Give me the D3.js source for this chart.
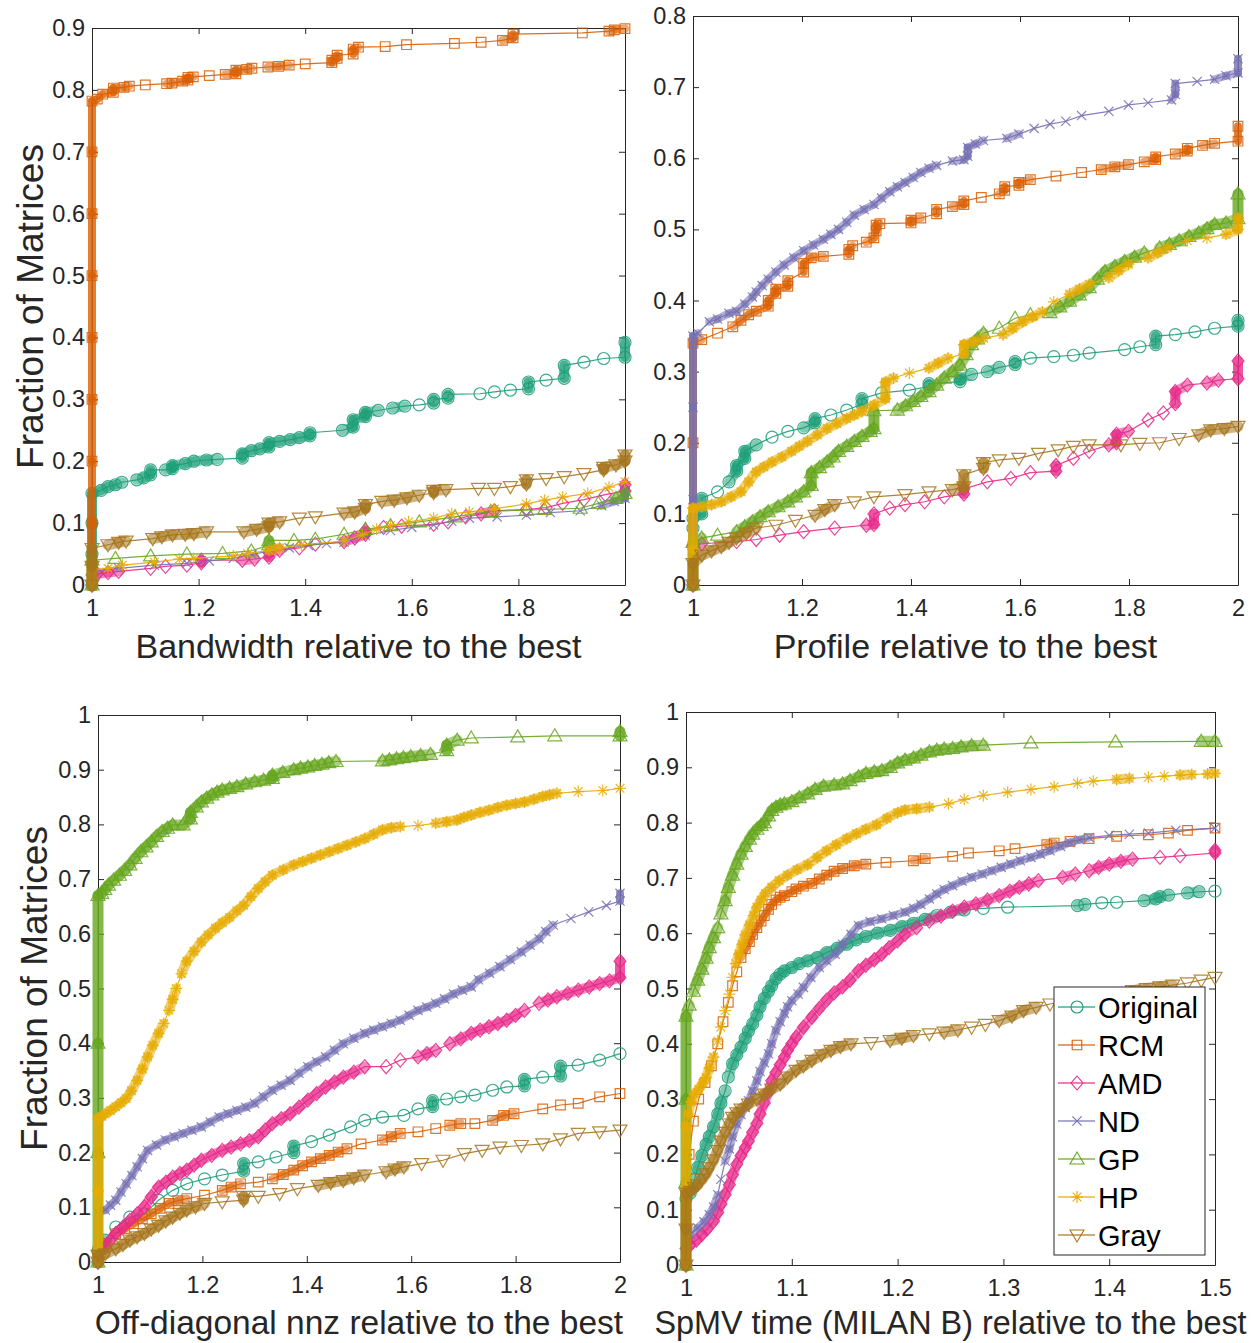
<!DOCTYPE html>
<html><head><meta charset="utf-8">
<script src="https://cdn.jsdelivr.net/npm/d3@7"></script>
<style>body{margin:0;background:#fff}svg{display:block}</style>
</head><body>
<svg id="chart" width="1253" height="1343"></svg>
<script>
// ---------------- DATA ----------------
const methods = ["Original","RCM","AMD","ND","GP","HP","Gray"];
const colors  = ["#1b9e77","#d95f02","#e7298a","#7570b3","#66a61e","#e6ab02","#a6761d"];
const markerTypes = ["circle","square","diamond","x","triangle","asterisk","triangleDown"];

const xTicks12 = [1,1.2,1.4,1.6,1.8,2];
const xTicks15 = [1,1.1,1.2,1.3,1.4,1.5];
const yTicks09 = [0,0.1,0.2,0.3,0.4,0.5,0.6,0.7,0.8,0.9];
const yTicks08 = [0,0.1,0.2,0.3,0.4,0.5,0.6,0.7,0.8];
const yTicks10 = [0,0.1,0.2,0.3,0.4,0.5,0.6,0.7,0.8,0.9,1];

const titles = ["Bandwidth relative to the best","Profile relative to the best",
  "Off-diagonal nnz relative to the best","SpMV time (MILAN B) relative to the best"];
const yTitle = "Fraction of Matrices";

// Panel 1: Bandwidth
const bwOriginal = [[1,0],[1,0.05],[1,0.1],[1,0.148],[1.017,0.153],[1.03,0.159],[1.044,0.162],[1.056,0.166],[1.084,0.17],[1.097,0.173],[1.11,0.178],[1.11,0.186],[1.138,0.186],[1.151,0.188],[1.151,0.193],[1.175,0.196],[1.191,0.2],[1.215,0.202],[1.235,0.203],[1.282,0.205],[1.282,0.212],[1.299,0.217],[1.315,0.22],[1.332,0.223],[1.332,0.23],[1.352,0.232],[1.372,0.235],[1.389,0.238],[1.409,0.241],[1.409,0.246],[1.47,0.25],[1.49,0.255],[1.49,0.267],[1.513,0.272],[1.513,0.279],[1.537,0.282],[1.564,0.286],[1.587,0.289],[1.614,0.291],[1.641,0.294],[1.641,0.3],[1.668,0.302],[1.668,0.308],[1.728,0.309],[1.755,0.312],[1.785,0.315],[1.819,0.317],[1.819,0.328],[1.852,0.331],[1.886,0.334],[1.886,0.355],[1.923,0.36],[1.96,0.366],[2,0.368],[2,0.392]];
const bwRcm = [[1,0],[1,0.1],[1,0.2],[1,0.3],[1,0.4],[1,0.5],[1,0.6],[1,0.7],[1,0.782],[1.01,0.785],[1.02,0.793],[1.04,0.796],[1.04,0.803],[1.06,0.804],[1.07,0.806],[1.1,0.808],[1.14,0.81],[1.15,0.811],[1.17,0.814],[1.18,0.816],[1.18,0.82],[1.19,0.821],[1.22,0.823],[1.25,0.825],[1.27,0.826],[1.27,0.832],[1.29,0.833],[1.3,0.835],[1.33,0.837],[1.35,0.838],[1.37,0.84],[1.4,0.842],[1.45,0.844],[1.45,0.848],[1.46,0.851],[1.46,0.856],[1.49,0.858],[1.49,0.866],[1.5,0.869],[1.55,0.87],[1.59,0.873],[1.68,0.875],[1.73,0.877],[1.77,0.88],[1.79,0.884],[1.79,0.89],[1.92,0.892],[1.97,0.895],[1.98,0.897],[2,0.899]];
const bwAmd = [[1,0],[1,0.016],[1.01,0.018],[1.03,0.02],[1.05,0.022],[1.11,0.027],[1.138,0.03],[1.178,0.032],[1.205,0.036],[1.205,0.04],[1.282,0.04],[1.305,0.042],[1.332,0.045],[1.332,0.052],[1.352,0.056],[1.389,0.06],[1.419,0.066],[1.473,0.07],[1.493,0.076],[1.513,0.082],[1.513,0.088],[1.547,0.093],[1.581,0.095],[1.641,0.098],[1.668,0.102],[1.701,0.11],[1.73,0.115],[1.755,0.12],[1.815,0.122],[1.852,0.125],[1.883,0.132],[1.923,0.138],[1.963,0.146],[2,0.152],[2,0.162]];
const bwNd = [[1,0],[1,0.022],[1.05,0.027],[1.117,0.032],[1.178,0.035],[1.22,0.039],[1.265,0.043],[1.3,0.049],[1.332,0.055],[1.37,0.06],[1.406,0.064],[1.44,0.067],[1.473,0.069],[1.513,0.08],[1.56,0.088],[1.6,0.093],[1.641,0.097],[1.675,0.103],[1.708,0.108],[1.76,0.11],[1.815,0.113],[1.86,0.117],[1.916,0.12],[1.956,0.128],[1.98,0.135],[2,0.14],[2,0.152]];
const bwGp = [[1,0],[1,0.04],[1.044,0.043],[1.11,0.047],[1.178,0.05],[1.245,0.051],[1.299,0.055],[1.332,0.065],[1.332,0.072],[1.379,0.072],[1.419,0.074],[1.473,0.082],[1.513,0.09],[1.56,0.096],[1.614,0.102],[1.681,0.11],[1.748,0.119],[1.815,0.121],[1.849,0.122],[1.916,0.124],[1.95,0.132],[1.983,0.14],[2,0.148]];
const bwHp = [[1,0],[1,0.024],[1.03,0.027],[1.057,0.032],[1.117,0.037],[1.164,0.042],[1.191,0.043],[1.265,0.047],[1.292,0.051],[1.332,0.056],[1.352,0.06],[1.393,0.065],[1.473,0.071],[1.507,0.081],[1.534,0.09],[1.56,0.096],[1.594,0.102],[1.641,0.108],[1.675,0.115],[1.708,0.118],[1.755,0.123],[1.815,0.131],[1.849,0.137],[1.883,0.142],[1.93,0.148],[1.97,0.158],[2,0.167]];
const bwGray = [[1,0],[1,0.03],[1,0.059],[1.03,0.065],[1.05,0.069],[1.064,0.071],[1.114,0.075],[1.131,0.078],[1.151,0.081],[1.175,0.082],[1.191,0.083],[1.215,0.086],[1.285,0.086],[1.309,0.09],[1.332,0.094],[1.332,0.1],[1.352,0.102],[1.389,0.108],[1.419,0.11],[1.473,0.116],[1.493,0.118],[1.513,0.124],[1.513,0.13],[1.544,0.135],[1.567,0.137],[1.591,0.141],[1.614,0.145],[1.641,0.149],[1.641,0.153],[1.664,0.154],[1.725,0.156],[1.755,0.156],[1.785,0.159],[1.815,0.163],[1.815,0.17],[1.852,0.172],[1.886,0.175],[1.923,0.18],[1.96,0.186],[1.96,0.19],[1.983,0.194],[2,0.2],[2,0.21]];

// Panel 2: Profile
const prOriginal = [[1,0],[1,0.08],[1,0.094],[1.016,0.1],[1.016,0.122],[1.045,0.131],[1.066,0.145],[1.08,0.16],[1.08,0.168],[1.095,0.178],[1.095,0.188],[1.116,0.197],[1.145,0.208],[1.174,0.216],[1.203,0.221],[1.224,0.228],[1.224,0.234],[1.253,0.239],[1.282,0.246],[1.31,0.254],[1.31,0.262],[1.346,0.27],[1.397,0.274],[1.433,0.279],[1.433,0.283],[1.49,0.286],[1.49,0.29],[1.511,0.296],[1.54,0.3],[1.562,0.306],[1.591,0.31],[1.591,0.314],[1.619,0.319],[1.662,0.321],[1.698,0.323],[1.727,0.326],[1.792,0.331],[1.82,0.335],[1.849,0.338],[1.849,0.35],[1.885,0.352],[1.921,0.356],[1.957,0.361],[2,0.364],[2,0.372]];
const prRcm = [[1,0],[1,0.2],[1,0.34],[1.016,0.345],[1.045,0.354],[1.073,0.363],[1.088,0.372],[1.102,0.38],[1.116,0.385],[1.138,0.392],[1.138,0.4],[1.152,0.41],[1.152,0.416],[1.174,0.42],[1.174,0.428],[1.203,0.44],[1.203,0.452],[1.217,0.46],[1.239,0.462],[1.286,0.465],[1.286,0.472],[1.293,0.477],[1.318,0.482],[1.332,0.488],[1.336,0.498],[1.336,0.506],[1.343,0.508],[1.4,0.509],[1.4,0.513],[1.418,0.516],[1.447,0.522],[1.447,0.528],[1.476,0.532],[1.497,0.535],[1.497,0.54],[1.529,0.545],[1.562,0.55],[1.572,0.555],[1.572,0.56],[1.598,0.562],[1.598,0.566],[1.619,0.57],[1.666,0.575],[1.713,0.58],[1.749,0.584],[1.774,0.588],[1.799,0.591],[1.828,0.595],[1.849,0.598],[1.849,0.602],[1.885,0.606],[1.907,0.61],[1.907,0.614],[1.935,0.618],[1.957,0.621],[2,0.624],[2,0.645]];
const prAmd = [[1,0],[1,0.056],[1.016,0.058],[1.08,0.061],[1.116,0.064],[1.159,0.07],[1.203,0.075],[1.26,0.08],[1.318,0.084],[1.332,0.085],[1.332,0.1],[1.361,0.108],[1.389,0.113],[1.425,0.117],[1.461,0.124],[1.497,0.128],[1.497,0.135],[1.54,0.145],[1.583,0.15],[1.619,0.158],[1.666,0.16],[1.666,0.168],[1.698,0.178],[1.727,0.188],[1.763,0.197],[1.777,0.2],[1.777,0.212],[1.799,0.216],[1.835,0.232],[1.863,0.242],[1.885,0.255],[1.885,0.272],[1.907,0.281],[1.943,0.284],[1.964,0.288],[2,0.29],[2,0.315]];
const prNd = [[1,0],[1,0.12],[1,0.25],[1,0.35],[1.009,0.354],[1.03,0.37],[1.045,0.374],[1.066,0.382],[1.08,0.385],[1.095,0.395],[1.109,0.405],[1.116,0.412],[1.127,0.421],[1.138,0.43],[1.152,0.44],[1.167,0.45],[1.185,0.46],[1.203,0.47],[1.221,0.478],[1.239,0.486],[1.253,0.493],[1.267,0.5],[1.282,0.51],[1.296,0.52],[1.314,0.528],[1.332,0.535],[1.346,0.544],[1.361,0.553],[1.375,0.56],[1.389,0.566],[1.404,0.573],[1.418,0.58],[1.433,0.586],[1.447,0.59],[1.476,0.596],[1.497,0.598],[1.504,0.603],[1.504,0.615],[1.518,0.62],[1.533,0.625],[1.576,0.628],[1.598,0.634],[1.626,0.642],[1.655,0.648],[1.684,0.652],[1.713,0.66],[1.763,0.666],[1.799,0.675],[1.835,0.678],[1.878,0.682],[1.885,0.69],[1.885,0.705],[1.925,0.708],[1.957,0.711],[1.978,0.716],[2,0.72],[2,0.74]];
const prGp = [[1,0],[1,0.06],[1.016,0.066],[1.045,0.07],[1.08,0.075],[1.095,0.082],[1.109,0.089],[1.123,0.096],[1.138,0.103],[1.156,0.11],[1.174,0.117],[1.188,0.124],[1.203,0.131],[1.217,0.14],[1.217,0.158],[1.232,0.165],[1.246,0.173],[1.257,0.18],[1.267,0.188],[1.282,0.195],[1.296,0.202],[1.31,0.209],[1.325,0.216],[1.332,0.22],[1.332,0.245],[1.375,0.246],[1.39,0.252],[1.404,0.258],[1.418,0.265],[1.433,0.272],[1.447,0.281],[1.461,0.291],[1.476,0.3],[1.49,0.309],[1.501,0.324],[1.511,0.338],[1.522,0.346],[1.533,0.354],[1.562,0.361],[1.591,0.375],[1.619,0.38],[1.655,0.383],[1.673,0.391],[1.691,0.399],[1.709,0.408],[1.727,0.418],[1.742,0.43],[1.756,0.441],[1.774,0.448],[1.792,0.455],[1.81,0.461],[1.828,0.467],[1.856,0.474],[1.874,0.479],[1.892,0.484],[1.91,0.49],[1.928,0.495],[1.943,0.501],[1.957,0.507],[1.978,0.509],[2,0.515],[2,0.55]];
const prHp = [[1,0],[1,0.05],[1,0.108],[1.016,0.11],[1.034,0.113],[1.052,0.117],[1.07,0.124],[1.088,0.131],[1.102,0.145],[1.116,0.159],[1.13,0.166],[1.145,0.173],[1.163,0.18],[1.181,0.188],[1.195,0.195],[1.21,0.202],[1.228,0.211],[1.246,0.22],[1.264,0.227],[1.282,0.234],[1.296,0.239],[1.31,0.244],[1.332,0.253],[1.353,0.262],[1.353,0.285],[1.368,0.291],[1.397,0.298],[1.433,0.305],[1.45,0.312],[1.468,0.319],[1.497,0.325],[1.497,0.338],[1.515,0.342],[1.533,0.347],[1.569,0.352],[1.587,0.361],[1.605,0.37],[1.623,0.377],[1.641,0.384],[1.662,0.398],[1.691,0.409],[1.709,0.416],[1.727,0.423],[1.763,0.432],[1.781,0.442],[1.799,0.451],[1.835,0.46],[1.853,0.467],[1.871,0.474],[1.907,0.484],[1.943,0.488],[1.978,0.493],[2,0.5],[2,0.516]];
const prGray = [[1,0],[1,0.03],[1.016,0.042],[1.034,0.048],[1.052,0.054],[1.066,0.06],[1.08,0.066],[1.098,0.073],[1.116,0.08],[1.152,0.084],[1.188,0.091],[1.224,0.098],[1.242,0.106],[1.26,0.113],[1.296,0.117],[1.332,0.124],[1.389,0.127],[1.433,0.131],[1.476,0.134],[1.497,0.138],[1.497,0.155],[1.533,0.164],[1.533,0.172],[1.562,0.176],[1.598,0.178],[1.634,0.185],[1.67,0.19],[1.698,0.195],[1.727,0.197],[1.785,0.197],[1.82,0.199],[1.856,0.2],[1.892,0.206],[1.928,0.211],[1.95,0.218],[1.975,0.22],[2,0.223]];

// Panel 3: Off-diagonal nnz
const nzOriginal = [[1,0],[1,0.02],[1.014,0.04],[1.034,0.064],[1.061,0.082],[1.089,0.088],[1.116,0.113],[1.143,0.131],[1.17,0.143],[1.204,0.152],[1.238,0.159],[1.279,0.166],[1.279,0.18],[1.307,0.183],[1.341,0.192],[1.375,0.2],[1.375,0.212],[1.409,0.22],[1.443,0.232],[1.484,0.247],[1.511,0.259],[1.545,0.265],[1.586,0.268],[1.613,0.28],[1.641,0.284],[1.641,0.295],[1.668,0.298],[1.695,0.302],[1.722,0.305],[1.756,0.314],[1.783,0.32],[1.817,0.322],[1.817,0.334],[1.852,0.338],[1.886,0.34],[1.886,0.358],[1.92,0.36],[1.961,0.369],[2,0.381]];
const nzRcm = [[1,0],[1,0.02],[1.014,0.034],[1.034,0.052],[1.051,0.061],[1.068,0.07],[1.085,0.079],[1.102,0.088],[1.119,0.098],[1.136,0.107],[1.153,0.112],[1.17,0.116],[1.204,0.122],[1.238,0.131],[1.255,0.137],[1.273,0.143],[1.307,0.146],[1.334,0.152],[1.355,0.16],[1.375,0.168],[1.392,0.176],[1.409,0.183],[1.426,0.189],[1.443,0.195],[1.46,0.201],[1.477,0.207],[1.504,0.216],[1.545,0.223],[1.562,0.229],[1.579,0.235],[1.613,0.238],[1.647,0.244],[1.674,0.25],[1.695,0.253],[1.722,0.253],[1.756,0.259],[1.777,0.268],[1.797,0.271],[1.852,0.28],[1.886,0.287],[1.92,0.29],[1.961,0.302],[2,0.308]];
const nzAmd = [[1,0],[1,0.02],[1.014,0.027],[1.024,0.04],[1.034,0.052],[1.048,0.064],[1.061,0.076],[1.075,0.088],[1.089,0.101],[1.102,0.119],[1.116,0.137],[1.13,0.146],[1.143,0.155],[1.157,0.162],[1.17,0.168],[1.184,0.177],[1.198,0.186],[1.218,0.195],[1.238,0.204],[1.255,0.21],[1.273,0.216],[1.29,0.222],[1.307,0.229],[1.32,0.241],[1.334,0.253],[1.351,0.262],[1.368,0.271],[1.385,0.283],[1.402,0.296],[1.419,0.308],[1.436,0.32],[1.453,0.329],[1.47,0.338],[1.49,0.347],[1.511,0.357],[1.552,0.357],[1.579,0.369],[1.613,0.375],[1.63,0.381],[1.647,0.387],[1.674,0.399],[1.695,0.408],[1.715,0.418],[1.732,0.424],[1.749,0.43],[1.766,0.436],[1.783,0.442],[1.8,0.451],[1.817,0.46],[1.845,0.473],[1.862,0.479],[1.879,0.485],[1.9,0.491],[1.92,0.497],[1.941,0.503],[1.961,0.509],[1.98,0.514],[2,0.52],[2,0.55]];
const nzNd = [[1,0],[1,0.09],[1.014,0.095],[1.024,0.104],[1.034,0.113],[1.044,0.128],[1.054,0.143],[1.065,0.158],[1.075,0.174],[1.085,0.189],[1.095,0.204],[1.112,0.214],[1.129,0.223],[1.146,0.229],[1.163,0.235],[1.18,0.241],[1.198,0.247],[1.215,0.256],[1.232,0.265],[1.249,0.271],[1.266,0.277],[1.283,0.283],[1.3,0.29],[1.317,0.302],[1.334,0.314],[1.351,0.323],[1.368,0.332],[1.385,0.345],[1.402,0.357],[1.419,0.366],[1.436,0.375],[1.453,0.387],[1.47,0.399],[1.49,0.409],[1.511,0.418],[1.528,0.424],[1.545,0.43],[1.562,0.436],[1.579,0.442],[1.596,0.451],[1.613,0.46],[1.63,0.466],[1.647,0.473],[1.664,0.481],[1.681,0.49],[1.698,0.497],[1.715,0.503],[1.729,0.516],[1.75,0.528],[1.77,0.54],[1.79,0.553],[1.811,0.567],[1.828,0.579],[1.845,0.591],[1.858,0.604],[1.872,0.616],[1.906,0.628],[1.94,0.64],[1.974,0.652],[2,0.66],[2,0.674]];
const nzGp = [[1,0],[1,0.2],[1,0.4],[1,0.67],[1.007,0.674],[1.013,0.681],[1.02,0.689],[1.03,0.698],[1.041,0.707],[1.051,0.716],[1.061,0.726],[1.071,0.738],[1.082,0.75],[1.092,0.759],[1.102,0.768],[1.112,0.778],[1.123,0.787],[1.133,0.793],[1.143,0.799],[1.163,0.799],[1.177,0.81],[1.177,0.822],[1.188,0.832],[1.198,0.841],[1.208,0.848],[1.218,0.854],[1.228,0.859],[1.238,0.863],[1.252,0.866],[1.266,0.869],[1.283,0.874],[1.3,0.878],[1.317,0.881],[1.334,0.884],[1.334,0.89],[1.354,0.895],[1.375,0.9],[1.388,0.903],[1.402,0.905],[1.415,0.908],[1.429,0.91],[1.442,0.913],[1.456,0.915],[1.545,0.916],[1.558,0.918],[1.572,0.92],[1.585,0.922],[1.599,0.924],[1.618,0.926],[1.637,0.928],[1.668,0.935],[1.668,0.945],[1.688,0.954],[1.715,0.958],[1.804,0.96],[1.875,0.962],[2,0.962],[2,0.97]];
const nzHp = [[1,0],[1,0.13],[1,0.262],[1.007,0.266],[1.014,0.271],[1.024,0.277],[1.034,0.284],[1.044,0.291],[1.054,0.299],[1.064,0.313],[1.075,0.332],[1.085,0.353],[1.095,0.375],[1.105,0.396],[1.116,0.418],[1.126,0.436],[1.136,0.46],[1.143,0.48],[1.15,0.5],[1.16,0.527],[1.17,0.55],[1.184,0.568],[1.198,0.585],[1.211,0.598],[1.225,0.61],[1.238,0.62],[1.252,0.63],[1.266,0.642],[1.279,0.652],[1.293,0.668],[1.307,0.683],[1.32,0.695],[1.334,0.707],[1.355,0.717],[1.375,0.726],[1.392,0.732],[1.409,0.738],[1.426,0.744],[1.443,0.75],[1.46,0.756],[1.477,0.762],[1.494,0.768],[1.511,0.774],[1.528,0.782],[1.545,0.79],[1.562,0.794],[1.579,0.796],[1.613,0.798],[1.647,0.802],[1.668,0.805],[1.688,0.808],[1.701,0.813],[1.715,0.817],[1.732,0.822],[1.749,0.826],[1.766,0.831],[1.783,0.835],[1.8,0.838],[1.817,0.841],[1.835,0.846],[1.852,0.851],[1.865,0.854],[1.879,0.857],[1.92,0.86],[1.967,0.862],[2,0.866]];
const nzGray = [[1,0],[1,0.012],[1.014,0.015],[1.034,0.024],[1.048,0.032],[1.061,0.04],[1.075,0.046],[1.089,0.052],[1.102,0.06],[1.116,0.067],[1.13,0.075],[1.143,0.082],[1.157,0.089],[1.17,0.095],[1.187,0.101],[1.204,0.107],[1.238,0.11],[1.279,0.113],[1.279,0.12],[1.307,0.12],[1.348,0.125],[1.382,0.134],[1.422,0.14],[1.446,0.145],[1.47,0.149],[1.49,0.154],[1.511,0.159],[1.552,0.165],[1.569,0.17],[1.586,0.174],[1.62,0.18],[1.661,0.186],[1.702,0.198],[1.736,0.204],[1.77,0.21],[1.811,0.213],[1.852,0.216],[1.886,0.225],[1.92,0.235],[1.961,0.238],[2,0.241]];

// Panel 4: SpMV time
const spOriginal = [[1,0],[1,0.12],[1.004,0.13],[1.008,0.155],[1.011,0.176],[1.015,0.198],[1.019,0.218],[1.022,0.232],[1.026,0.25],[1.03,0.273],[1.033,0.293],[1.037,0.315],[1.04,0.34],[1.044,0.364],[1.048,0.38],[1.052,0.394],[1.056,0.41],[1.059,0.423],[1.063,0.436],[1.067,0.452],[1.07,0.467],[1.074,0.482],[1.078,0.495],[1.081,0.505],[1.085,0.518],[1.089,0.526],[1.093,0.532],[1.1,0.538],[1.107,0.545],[1.115,0.55],[1.124,0.556],[1.133,0.565],[1.143,0.573],[1.152,0.58],[1.161,0.588],[1.17,0.594],[1.181,0.6],[1.193,0.605],[1.204,0.612],[1.215,0.618],[1.226,0.625],[1.237,0.632],[1.25,0.638],[1.263,0.642],[1.281,0.645],[1.304,0.647],[1.37,0.65],[1.377,0.652],[1.393,0.655],[1.407,0.656],[1.433,0.659],[1.444,0.662],[1.448,0.666],[1.456,0.669],[1.474,0.673],[1.485,0.675],[1.5,0.676]];
const spRcm = [[1,0],[1,0.13],[1.003,0.2],[1.007,0.26],[1.012,0.3],[1.018,0.33],[1.024,0.36],[1.03,0.4],[1.035,0.44],[1.04,0.475],[1.044,0.505],[1.048,0.53],[1.052,0.556],[1.056,0.572],[1.06,0.585],[1.063,0.598],[1.067,0.61],[1.071,0.622],[1.074,0.632],[1.078,0.643],[1.081,0.652],[1.085,0.66],[1.089,0.665],[1.093,0.668],[1.1,0.675],[1.104,0.68],[1.111,0.685],[1.119,0.69],[1.126,0.698],[1.133,0.705],[1.14,0.712],[1.148,0.717],[1.159,0.722],[1.17,0.725],[1.189,0.728],[1.215,0.731],[1.226,0.735],[1.252,0.739],[1.267,0.745],[1.296,0.749],[1.311,0.753],[1.341,0.76],[1.348,0.763],[1.363,0.766],[1.381,0.771],[1.407,0.775],[1.437,0.778],[1.456,0.781],[1.474,0.786],[1.5,0.79]];
const spAmd = [[1,0],[1,0.03],[1.004,0.036],[1.01,0.045],[1.015,0.055],[1.02,0.065],[1.026,0.079],[1.03,0.095],[1.033,0.11],[1.037,0.127],[1.041,0.145],[1.044,0.163],[1.048,0.182],[1.052,0.198],[1.056,0.212],[1.059,0.224],[1.063,0.24],[1.067,0.256],[1.07,0.273],[1.074,0.293],[1.078,0.313],[1.081,0.333],[1.085,0.348],[1.089,0.362],[1.093,0.376],[1.096,0.388],[1.1,0.4],[1.104,0.412],[1.111,0.43],[1.119,0.448],[1.126,0.464],[1.133,0.479],[1.14,0.492],[1.148,0.503],[1.155,0.515],[1.163,0.532],[1.17,0.542],[1.178,0.552],[1.185,0.562],[1.192,0.574],[1.2,0.586],[1.207,0.598],[1.218,0.61],[1.23,0.622],[1.241,0.631],[1.252,0.64],[1.263,0.647],[1.274,0.653],[1.285,0.66],[1.296,0.668],[1.306,0.676],[1.315,0.683],[1.324,0.689],[1.333,0.695],[1.356,0.701],[1.368,0.707],[1.381,0.713],[1.39,0.719],[1.4,0.725],[1.411,0.73],[1.422,0.734],[1.448,0.737],[1.467,0.74],[1.5,0.745],[1.5,0.75]];
const spNd = [[1,0],[1,0.05],[1.004,0.055],[1.011,0.067],[1.017,0.078],[1.022,0.091],[1.026,0.105],[1.03,0.127],[1.033,0.155],[1.037,0.188],[1.041,0.21],[1.044,0.232],[1.048,0.255],[1.052,0.272],[1.056,0.285],[1.059,0.297],[1.063,0.315],[1.067,0.333],[1.07,0.35],[1.074,0.366],[1.078,0.382],[1.081,0.4],[1.085,0.424],[1.089,0.44],[1.093,0.455],[1.096,0.467],[1.1,0.478],[1.106,0.49],[1.111,0.502],[1.118,0.52],[1.126,0.538],[1.133,0.55],[1.141,0.562],[1.148,0.58],[1.156,0.598],[1.163,0.614],[1.174,0.621],[1.185,0.626],[1.196,0.632],[1.207,0.638],[1.215,0.645],[1.222,0.652],[1.23,0.662],[1.237,0.671],[1.244,0.679],[1.252,0.686],[1.261,0.694],[1.27,0.701],[1.28,0.707],[1.289,0.713],[1.298,0.719],[1.307,0.725],[1.316,0.731],[1.326,0.737],[1.335,0.743],[1.344,0.749],[1.354,0.757],[1.363,0.764],[1.372,0.769],[1.381,0.773],[1.4,0.777],[1.419,0.779],[1.437,0.781],[1.463,0.786],[1.5,0.79]];
const spGp = [[1,0],[1,0.15],[1,0.3],[1,0.45],[1.003,0.47],[1.007,0.495],[1.011,0.515],[1.015,0.535],[1.019,0.555],[1.022,0.574],[1.026,0.592],[1.03,0.61],[1.033,0.635],[1.037,0.659],[1.04,0.683],[1.044,0.705],[1.048,0.725],[1.052,0.743],[1.056,0.757],[1.06,0.77],[1.063,0.779],[1.067,0.788],[1.071,0.795],[1.074,0.8],[1.078,0.812],[1.081,0.822],[1.085,0.828],[1.089,0.832],[1.093,0.834],[1.1,0.838],[1.107,0.845],[1.115,0.852],[1.122,0.86],[1.13,0.866],[1.14,0.868],[1.148,0.87],[1.155,0.876],[1.163,0.883],[1.17,0.889],[1.178,0.892],[1.185,0.894],[1.193,0.9],[1.2,0.908],[1.207,0.913],[1.215,0.917],[1.222,0.922],[1.23,0.928],[1.237,0.931],[1.244,0.933],[1.252,0.934],[1.26,0.937],[1.27,0.939],[1.281,0.94],[1.326,0.944],[1.406,0.946],[1.487,0.947],[1.5,0.947]];
const spHp = [[1,0],[1,0.14],[1,0.25],[1.002,0.273],[1.005,0.295],[1.008,0.309],[1.012,0.318],[1.016,0.329],[1.019,0.339],[1.022,0.356],[1.026,0.376],[1.03,0.405],[1.033,0.43],[1.037,0.46],[1.041,0.49],[1.044,0.52],[1.047,0.545],[1.05,0.562],[1.053,0.58],[1.056,0.597],[1.06,0.615],[1.064,0.632],[1.067,0.647],[1.071,0.66],[1.075,0.672],[1.081,0.683],[1.088,0.695],[1.096,0.705],[1.105,0.715],[1.115,0.724],[1.124,0.737],[1.133,0.749],[1.142,0.76],[1.152,0.771],[1.161,0.78],[1.17,0.788],[1.18,0.796],[1.19,0.808],[1.2,0.818],[1.207,0.823],[1.218,0.825],[1.23,0.828],[1.248,0.834],[1.263,0.842],[1.281,0.849],[1.304,0.855],[1.326,0.86],[1.348,0.865],[1.37,0.871],[1.385,0.875],[1.407,0.878],[1.419,0.88],[1.437,0.882],[1.452,0.884],[1.467,0.886],[1.478,0.887],[1.493,0.888],[1.5,0.889]];
const spGray = [[1,0],[1,0.065],[1,0.13],[1.004,0.133],[1.008,0.14],[1.011,0.145],[1.015,0.155],[1.019,0.165],[1.022,0.176],[1.026,0.19],[1.03,0.207],[1.033,0.224],[1.037,0.24],[1.041,0.255],[1.044,0.267],[1.048,0.275],[1.052,0.282],[1.059,0.291],[1.067,0.3],[1.074,0.309],[1.081,0.318],[1.089,0.327],[1.096,0.34],[1.104,0.352],[1.111,0.36],[1.119,0.37],[1.128,0.38],[1.137,0.388],[1.146,0.395],[1.156,0.4],[1.175,0.402],[1.193,0.406],[1.204,0.41],[1.215,0.415],[1.23,0.418],[1.244,0.421],[1.257,0.425],[1.27,0.43],[1.283,0.435],[1.296,0.442],[1.308,0.45],[1.319,0.46],[1.331,0.466],[1.344,0.472],[1.359,0.477],[1.374,0.481],[1.4,0.485],[1.411,0.49],[1.422,0.496],[1.435,0.5],[1.448,0.503],[1.46,0.506],[1.474,0.51],[1.487,0.515],[1.5,0.52]];

// ---------------- LAYOUT ----------------
const FONT = "'Liberation Sans', Arial, Helvetica, sans-serif";
const INK = "#262626";
const panels = [
  {left:92, right:625, top:28, bottom:585, xDom:[1,2], yDom:[0,0.9], xTicks:xTicks12, yTicks:yTicks09, title:titles[0], titleY:658, titleSize:34, yTitleX:43, hasYTitle:true,
   series:[bwOriginal,bwRcm,bwAmd,bwNd,bwGp,bwHp,bwGray]},
  {left:693, right:1238, top:16, bottom:585, xDom:[1,2], yDom:[0,0.8], xTicks:xTicks12, yTicks:yTicks08, title:titles[1], titleY:658, titleSize:34, hasYTitle:false,
   series:[prOriginal,prRcm,prAmd,prNd,prGp,prHp,prGray]},
  {left:98, right:620, top:715, bottom:1262, xDom:[1,2], yDom:[0,1], xTicks:xTicks12, yTicks:yTicks10, title:titles[2], titleY:1334, titleSize:33.5, yTitleX:47, hasYTitle:true,
   series:[nzOriginal,nzRcm,nzAmd,nzNd,nzGp,nzHp,nzGray]},
  {left:686, right:1215, top:712, bottom:1265, xDom:[1,1.5], yDom:[0,1], xTicks:xTicks15, yTicks:yTicks10, title:titles[3], titleY:1334, titleSize:32.4, hasYTitle:false,
   series:[spOriginal,spRcm,spAmd,spNd,spGp,spHp,spGray]}
];

const markerSize = {circle:12, square:10, diamond:12, x:10, triangle:13, asterisk:12, triangleDown:13};
function markerPath(t){
  switch(t){
    case "circle": { const r=6; return `M${r},0A${r},${r} 0 1,1 ${-r},0A${r},${r} 0 1,1 ${r},0Z`; }
    case "square": { const h=4.8; return `M${-h},${-h}H${h}V${h}H${-h}Z`; }
    case "diamond": { const w=6, h=7; return `M0,${-h}L${w},0L0,${h}L${-w},0Z`; }
    case "x": { const a=4.6; return `M${-a},${-a}L${a},${a}M${-a},${a}L${a},${-a}`; }
    case "triangle": return "M0,-7L7,5L-7,5Z";
    case "triangleDown": return "M0,7L7,-5L-7,-5Z";
    case "asterisk": { const a=6, b=4.3; return `M0,${-a}V${a}M${-a},0H${a}M${-b},${-b}L${b},${b}M${-b},${b}L${b},${-b}`; }
  }
}
const fmt = d3.format("~g");

const svg = d3.select("#chart");

panels.forEach(p => {
  const x = d3.scaleLinear().domain(p.xDom).range([p.left, p.right]);
  const y = d3.scaleLinear().domain(p.yDom).range([p.bottom, p.top]);
  const g = svg.append("g");

  const styleAxis = sel => {
    sel.attr("font-family", FONT).attr("font-size", 23.5);
    sel.selectAll("path.domain").attr("stroke", INK).attr("stroke-width", 1);
    sel.selectAll(".tick line").attr("stroke", INK).attr("stroke-width", 1);
    sel.selectAll(".tick text").attr("fill", INK);
  };
  g.append("g").attr("transform", `translate(0,${p.bottom})`)
    .call(d3.axisBottom(x).tickValues(p.xTicks).tickFormat(fmt).tickSizeInner(-6).tickSizeOuter(0).tickPadding(14)).call(styleAxis);
  g.append("g").attr("transform", `translate(0,${p.top})`)
    .call(d3.axisTop(x).tickValues(p.xTicks).tickFormat("").tickSizeInner(-6).tickSizeOuter(0)).call(styleAxis);
  g.append("g").attr("transform", `translate(${p.left},0)`)
    .call(d3.axisLeft(y).tickValues(p.yTicks).tickFormat(fmt).tickSizeInner(-6).tickSizeOuter(0).tickPadding(7)).call(styleAxis);
  g.append("g").attr("transform", `translate(${p.right},0)`)
    .call(d3.axisRight(y).tickValues(p.yTicks).tickFormat("").tickSizeInner(-6).tickSizeOuter(0)).call(styleAxis);

  const line = d3.line().x(d => x(d[0])).y(d => y(d[1]));
  p.series.forEach((data, i) => {
    const col = colors[i];
    const ms = markerSize[markerTypes[i]];
    const sg = g.append("g");
    // overlapping markers merge into bands: ties (same x) and closely spaced points
    const segs = [];
    for (let k = 1; k < data.length; k++) {
      const a = data[k-1], b = data[k];
      const dist = Math.hypot(x(b[0]) - x(a[0]), y(b[1]) - y(a[1]));
      if (a[0] === b[0] && a[1] !== b[1]) segs.push({a, b, tie:true});
      else if (dist < 14) segs.push({a, b, tie:false});
    }
    sg.selectAll("line.band").data(segs).join("line")
      .attr("x1", d => x(d.a[0])).attr("x2", d => x(d.b[0]))
      .attr("y1", d => y(d.a[1])).attr("y2", d => y(d.b[1]))
      .attr("stroke", col).attr("stroke-width", ms - 2)
      .attr("stroke-linecap", "round").attr("stroke-opacity", d => d.tie ? 0.8 : 0.55);
    sg.append("path").datum(data).attr("d", line)
      .attr("fill", "none").attr("stroke", col).attr("stroke-width", 1.2).attr("stroke-opacity", 0.9);
    sg.selectAll("path.mk").data(data).join("path")
      .attr("transform", d => `translate(${x(d[0])},${y(d[1])})`)
      .attr("d", markerPath(markerTypes[i]))
      .attr("fill", "none").attr("stroke", col).attr("stroke-width", 1.2).attr("stroke-opacity", 0.85);
  });

  g.append("text").attr("x", (p.left + p.right) / 2).attr("y", p.titleY)
    .attr("text-anchor", "middle").attr("font-family", FONT).attr("font-size", p.titleSize).attr("fill", INK)
    .text(p.title);
  if (p.hasYTitle) {
    g.append("text").attr("transform", `translate(${p.yTitleX},${(p.top + p.bottom) / 2}) rotate(-90)`)
      .attr("text-anchor", "middle").attr("font-family", FONT).attr("font-size", 37).attr("fill", INK)
      .text(yTitle);
  }
});

// legend (bottom-right panel)
const lg = svg.append("g");
const lgBox = {x:1054, y:987, w:151, h:268, row0:1007, step:38};
lg.append("rect").attr("x", lgBox.x).attr("y", lgBox.y).attr("width", lgBox.w).attr("height", lgBox.h)
  .attr("fill", "#fff").attr("stroke", INK).attr("stroke-width", 1);
methods.forEach((m, i) => {
  const cy = lgBox.row0 + i * lgBox.step;
  lg.append("line").attr("x1", lgBox.x + 4).attr("x2", lgBox.x + 41).attr("y1", cy).attr("y2", cy)
    .attr("stroke", colors[i]).attr("stroke-width", 1.5).attr("stroke-opacity", 0.8);
  lg.append("path").attr("transform", `translate(${lgBox.x + 23},${cy})`).attr("d", markerPath(markerTypes[i]))
    .attr("fill", "none").attr("stroke", colors[i]).attr("stroke-width", 1.1);
  lg.append("text").attr("x", lgBox.x + 44).attr("y", cy + 10.5)
    .attr("font-family", FONT).attr("font-size", 29).attr("fill", "#000").text(m);
});
</script>
</body></html>
